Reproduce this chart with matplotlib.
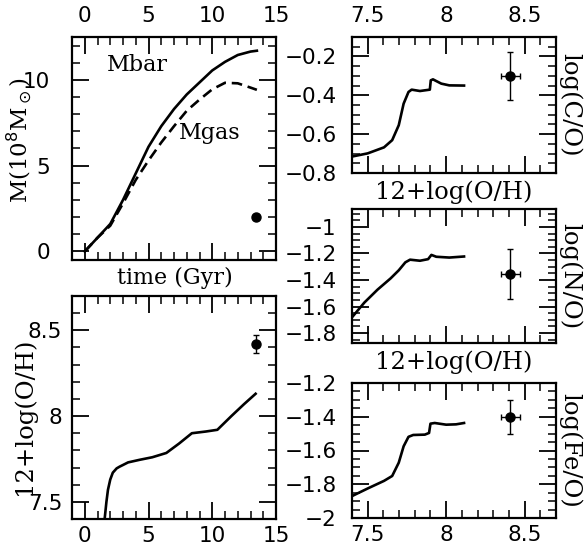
import matplotlib
matplotlib.use("Agg")
import matplotlib.pyplot as plt
from matplotlib.ticker import MultipleLocator, FuncFormatter

# --- data ---
t_mass = [0, 1, 2, 3, 4, 5, 6, 7, 8, 9, 10, 11, 12, 13, 13.5]
m_bar = [0, 0.8, 1.6, 3.0, 4.55, 6.1, 7.3, 8.3, 9.15, 9.85, 10.55, 11.05, 11.45, 11.65, 11.7]
m_gas = [0, 0.8, 1.5, 2.8, 4.17, 5.3, 6.35, 7.3, 8.2, 8.85, 9.45, 9.83, 9.8, 9.55, 9.42]
obs_t, obs_mgas = 13.4, 2.0

t_oh = [1.5, 1.56, 1.7, 1.82, 2.0, 2.2, 2.5, 2.73, 3.0, 3.4, 4.3, 5.3, 6.4, 7.4, 8.4, 9.5, 10.4, 11.5, 12.5, 13.4]
oh_t = [7.3, 7.40, 7.50, 7.57, 7.63, 7.67, 7.695, 7.705, 7.715, 7.73, 7.745, 7.76, 7.785, 7.84, 7.90, 7.91, 7.92, 8.0, 8.07, 8.13]
obs_oh, obs_oh_err = 8.42, 0.055

oh_co = [7.396, 7.50, 7.604, 7.656, 7.698, 7.729, 7.76, 7.78, 7.833, 7.896, 7.902, 7.916, 7.969, 8.02, 8.114]
co = [-0.716, -0.699, -0.668, -0.631, -0.554, -0.443, -0.383, -0.371, -0.378, -0.371, -0.323, -0.318, -0.34, -0.349, -0.35]

oh_no = [7.396, 7.479, 7.5625, 7.646, 7.698, 7.74, 7.77, 7.833, 7.885, 7.906, 7.937, 8.02, 8.114]
no = [-1.687, -1.570, -1.473, -1.388, -1.327, -1.267, -1.247, -1.255, -1.243, -1.211, -1.225, -1.231, -1.223]

oh_feo = [7.396, 7.50, 7.604, 7.656, 7.698, 7.729, 7.76, 7.79, 7.864, 7.891, 7.90, 7.927, 8.0, 8.063, 8.114]
feo = [-1.872, -1.825, -1.78, -1.751, -1.672, -1.575, -1.519, -1.508, -1.506, -1.496, -1.441, -1.437, -1.447, -1.445, -1.437]

obs_x, obs_xerr = 8.41, 0.058
obs_co, obs_co_err = -0.30, 0.125
obs_no, obs_no_err = -1.355, 0.185
obs_feo, obs_feo_err = -1.40, 0.10

W, H = 584, 550
fig = plt.figure(figsize=(W / 100, H / 100), dpi=100)

def box(x0, x1, y0, y1):
    return [x0 / W, 1 - y1 / H, (x1 - x0) / W, (y1 - y0) / H]

serif = "DejaVu Serif"
tick_fs = 15.5
lab_fs = 16
big_fs = 17.5

fmt = FuncFormatter(lambda v, p: ("%g" % round(v, 2)).replace("-", "\u2212"))

def style(ax, xmin, ymin, top=False, bottom=False, ypad=10, xpad=9):
    ax.xaxis.set_minor_locator(MultipleLocator(xmin))
    ax.yaxis.set_minor_locator(MultipleLocator(ymin))
    ax.xaxis.set_major_formatter(fmt)
    ax.yaxis.set_major_formatter(fmt)
    ax.tick_params(which="both", direction="in", top=True, right=True,
                   labeltop=top, labelbottom=bottom, labelleft=True, labelright=False,
                   labelsize=tick_fs)
    ax.tick_params(which="major", length=12, width=1.3)
    ax.tick_params(which="minor", length=6, width=1.1)
    ax.tick_params(axis="y", pad=ypad)
    ax.tick_params(axis="x", pad=xpad)
    for s in ax.spines.values():
        s.set_linewidth(1.6)

lw = 1.9
ebkw = dict(fmt="o", color="black", ms=6.5, elinewidth=1.0, capsize=2.5, capthick=1.0)

# mass vs time
ax1 = fig.add_axes(box(72, 276, 37, 260))
ax1.plot(t_mass, m_bar, color="black", lw=lw)
ax1.plot(t_mass, m_gas, color="black", lw=lw, linestyle=(0, (4, 2.2)))
ax1.plot(obs_t, obs_mgas, "o", color="black", ms=6.5)
ax1.set_xlim(-1, 15)
ax1.set_ylim(-0.5, 12.5)
ax1.xaxis.set_major_locator(MultipleLocator(5))
ax1.yaxis.set_major_locator(MultipleLocator(5))
style(ax1, 1, 1, top=True, ypad=16, xpad=8)
ax1.text(4.1, 10.85, "Mbar", fontsize=lab_fs, family=serif, ha="center", va="center")
ax1.text(9.8, 6.9, "Mgas", fontsize=lab_fs, family=serif, ha="center", va="center")
ax1.text(-0.26, 0.535, r"M(10$^8$M$_\odot$)", transform=ax1.transAxes, rotation=90,
         fontsize=16.5, family=serif, ha="center", va="center")
ax1.text(0.505, -0.082, "time (Gyr)", transform=ax1.transAxes,
         fontsize=lab_fs, family=serif, ha="center", va="center")

# O/H vs time
ax2 = fig.add_axes(box(72, 276, 296, 519))
ax2.plot(t_oh, oh_t, color="black", lw=lw)
ax2.errorbar(obs_t, obs_oh, yerr=obs_oh_err, **ebkw)
ax2.set_xlim(-1, 15)
ax2.set_ylim(7.4, 8.7)
ax2.xaxis.set_major_locator(MultipleLocator(5))
ax2.yaxis.set_major_locator(MultipleLocator(0.5))
style(ax2, 1, 0.1, bottom=True, ypad=7, xpad=5)
ax2.text(-0.235, 0.46, "12+log(O/H)", transform=ax2.transAxes, rotation=90,
         fontsize=big_fs, family=serif, ha="center", va="center")

# abundance ratios
panels = [
    ((37, 173), oh_co, co, obs_co, obs_co_err, (-0.8, -0.1), "log(C/O)", "top"),
    ((209, 343), oh_no, no, obs_no, obs_no_err, (-1.875, -0.865), "log(N/O)", "none"),
    ((383, 518), oh_feo, feo, obs_feo, obs_feo_err, (-2.0, -1.2), "log(Fe/O)", "bottom"),
]
for (y0, y1), xs, ys, oy, oye, ylim, ylab, where in panels:
    ax = fig.add_axes(box(352, 556, y0, y1))
    ax.plot(xs, ys, color="black", lw=lw)
    ax.errorbar(obs_x, oy, xerr=obs_xerr, yerr=oye, **ebkw)
    ax.set_xlim(7.4, 8.7)
    ax.set_ylim(*ylim)
    ax.xaxis.set_major_locator(MultipleLocator(0.5))
    ax.yaxis.set_major_locator(MultipleLocator(0.2))
    style(ax, 0.1, 0.05, top=(where == "top"), bottom=(where == "bottom"),
          ypad=11, xpad=(8 if where == "top" else 5))
    ax.text(1.068, 0.5, ylab, transform=ax.transAxes, rotation=-90,
            fontsize=big_fs, family=serif, ha="center", va="center")
    if where != "bottom":
        ax.text(0.5, -0.14, "12+log(O/H)", transform=ax.transAxes,
                fontsize=big_fs, family=serif, ha="center", va="center")

fig.savefig("out.png", dpi=100)
